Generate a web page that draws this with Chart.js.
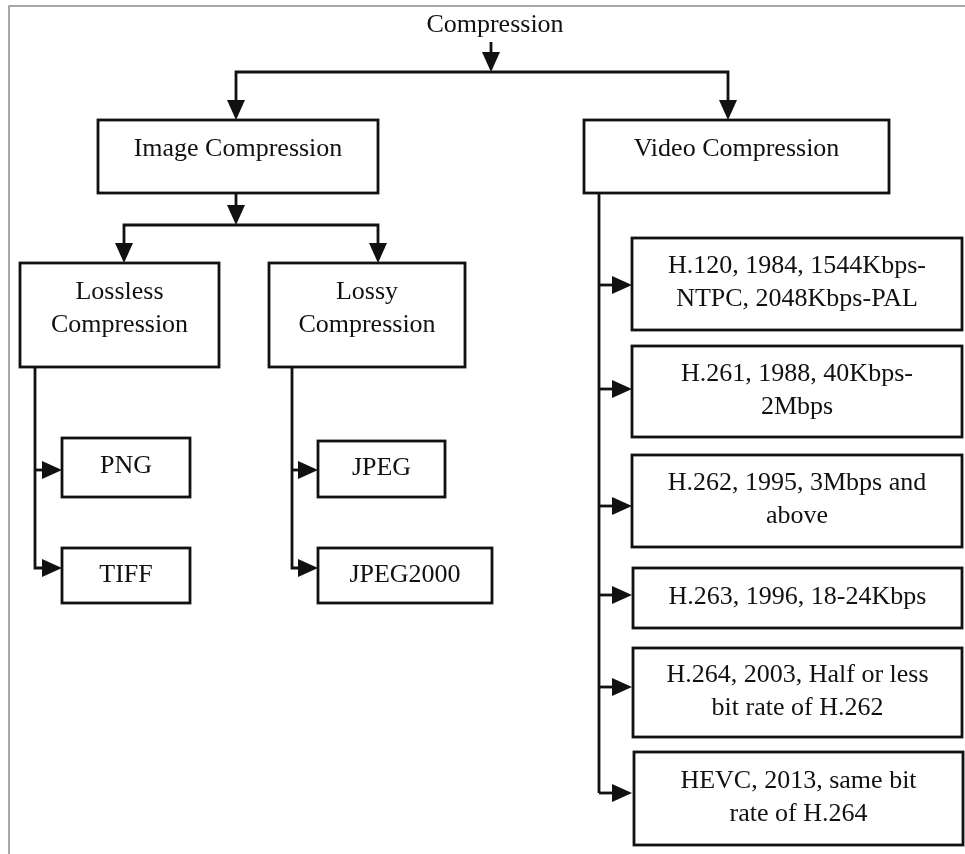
<!DOCTYPE html>
<html>
<head>
<meta charset="utf-8">
<title>Compression</title>
<script src="https://cdn.jsdelivr.net/npm/chart.js@4.4.1/dist/chart.umd.min.js"></script>
<style>
  html, body { margin: 0; padding: 0; background: #fff; }
  #wrap { width: 965px; height: 854px; }
</style>
</head>
<body>
<div id="wrap"><canvas id="tree"></canvas></div>
<script>
// node labels (one string per line)
const rootLabel = "Compression";
const branchLabels = [["Image Compression"], ["Video Compression"]];
const imageLabels = [["Lossless", "Compression"], ["Lossy", "Compression"]];
const losslessFormats = [["PNG"], ["TIFF"]];
const lossyFormats = [["JPEG"], ["JPEG2000"]];
const videoStandards = [
  ["H.120, 1984, 1544Kbps-", "NTPC, 2048Kbps-PAL"],
  ["H.261, 1988, 40Kbps-", "2Mbps"],
  ["H.262, 1995, 3Mbps and", "above"],
  ["H.263, 1996, 18-24Kbps"],
  ["H.264, 2003, Half or less", "bit rate of H.262"],
  ["HEVC, 2013, same bit", "rate of H.264"],
];

// layout of the boxes in diagram units: [left, top, right, bottom, text shift]
const branchBoxes = [[98, 120, 378, 193, -7], [584, 120, 889, 193, -7]];
const imageBoxes = [[20, 263, 219, 367, -6], [269, 263, 465, 367, -6]];
const losslessBoxes = [[62, 438, 190, 497, -1], [62, 548, 190, 603, 0]];
const lossyBoxes = [[318, 441, 445, 497, -1], [318, 548, 492, 603, 0]];
const videoBoxes = [
  [632, 238, 962, 330, -1],
  [632, 346, 962, 437, -1],
  [632, 455, 962, 547, -1],
  [633, 568, 962, 628, -1],
  [633, 648, 962, 737, -1],
  [634, 752, 963, 845, -1],
];

const ink = "#111";
const font = "26px 'Liberation Serif', 'DejaVu Serif', serif";

const treePlugin = {
  id: "tree",
  afterDraw(chart) {
    const ctx = chart.ctx;
    const sx = chart.scales.x, sy = chart.scales.y;
    const X = (v) => sx.getPixelForValue(v);
    const Y = (v) => sy.getPixelForValue(v);

    const line = (pts) => {
      ctx.beginPath();
      ctx.moveTo(X(pts[0][0]), Y(pts[0][1]));
      for (let i = 1; i < pts.length; i++) ctx.lineTo(X(pts[i][0]), Y(pts[i][1]));
      ctx.stroke();
    };
    // arrow head pointing down or right, tip at (x, y)
    const head = (x, y, dir) => {
      const L = 20, W = 9;
      ctx.beginPath();
      if (dir === "down") {
        ctx.moveTo(X(x), Y(y));
        ctx.lineTo(X(x - W), Y(y - L));
        ctx.lineTo(X(x + W), Y(y - L));
      } else {
        ctx.moveTo(X(x), Y(y));
        ctx.lineTo(X(x - L), Y(y - W));
        ctx.lineTo(X(x - L), Y(y + W));
      }
      ctx.closePath();
      ctx.fill();
    };
    const box = (b, lines) => {
      ctx.strokeRect(X(b[0]), Y(b[1]), X(b[2]) - X(b[0]), Y(b[3]) - Y(b[1]));
      const cx = X((b[0] + b[2]) / 2);
      const cy = Y((b[1] + b[3]) / 2 + b[4]);
      const lh = 33;
      lines.forEach((t, i) => {
        ctx.fillText(t, cx, cy + (i - (lines.length - 1) / 2) * lh);
      });
    };

    ctx.save();
    // picture frame
    ctx.strokeStyle = "#8a8a8a";
    ctx.lineWidth = 1.5;
    line([[9, 854], [9, 6], [965, 6]]);

    ctx.strokeStyle = ink;
    ctx.fillStyle = ink;
    ctx.lineWidth = 2.8;
    ctx.font = font;
    ctx.textAlign = "center";
    ctx.textBaseline = "middle";

    // root
    ctx.fillText(rootLabel, X(495), Y(25));
    line([[491, 42], [491, 60]]);
    head(491, 72, "down");
    line([[236, 100], [236, 72], [728, 72], [728, 100]]);
    head(236, 120, "down");
    head(728, 120, "down");
    branchLabels.forEach((l, i) => box(branchBoxes[i], l));

    // image branch
    line([[236, 193], [236, 210]]);
    head(236, 225, "down");
    line([[124, 245], [124, 225], [378, 225], [378, 245]]);
    head(124, 263, "down");
    head(378, 263, "down");
    imageLabels.forEach((l, i) => box(imageBoxes[i], l));

    // lossless leaves
    line([[35, 367], [35, 568], [50, 568]]);
    line([[35, 470], [50, 470]]);
    head(62, 470, "right");
    head(62, 568, "right");
    losslessFormats.forEach((l, i) => box(losslessBoxes[i], l));

    // lossy leaves
    line([[292, 367], [292, 568], [305, 568]]);
    line([[292, 470], [305, 470]]);
    head(318, 470, "right");
    head(318, 568, "right");
    lossyFormats.forEach((l, i) => box(lossyBoxes[i], l));

    // video standards
    const arrowsY = [285, 389, 506, 595, 687, 793];
    line([[599, 193], [599, 793]]);
    arrowsY.forEach((y) => {
      line([[599, y], [615, y]]);
      head(632, y, "right");
    });
    videoStandards.forEach((l, i) => box(videoBoxes[i], l));
    ctx.restore();
  },
};

new Chart(document.getElementById("tree"), {
  type: "scatter",
  plugins: [treePlugin],
  data: { datasets: [{ data: [], pointRadius: 0 }] },
  options: {
    responsive: true,
    maintainAspectRatio: false,
    animation: false,
    layout: { padding: 0 },
    plugins: { legend: { display: false }, tooltip: { enabled: false } },
    scales: {
      x: { type: "linear", min: 0, max: 965, display: false },
      y: { type: "linear", min: 0, max: 854, reverse: true, display: false },
    },
  },
});
</script>
</body>
</html>
